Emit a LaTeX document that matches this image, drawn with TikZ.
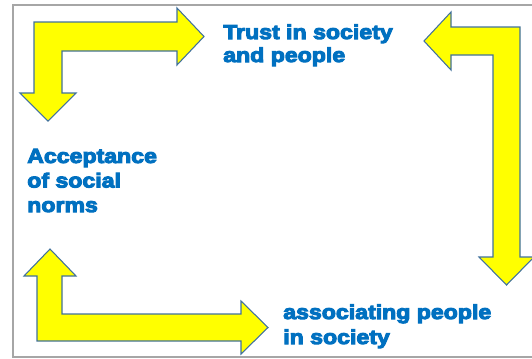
\documentclass[tikz,border=0pt]{standalone}
\usepackage{fontspec}
\newfontfamily\lbl{Liberation Sans}[BoldFeatures={FakeBold=5,FakeStretch=1.14}]
\definecolor{txtblue}{HTML}{0070C0}
\definecolor{arrowfill}{HTML}{FFFF00}
\definecolor{arrowline}{HTML}{41719C}
\definecolor{framegray}{HTML}{A6A6A6}
\tikzset{
  bentarrow/.style={fill=arrowfill, draw=arrowline, line width=0.8pt, line join=miter},
  label/.style={text=txtblue, inner sep=0pt, anchor=base west, align=left}
}
\begin{document}
\begin{tikzpicture}[x=0.75pt, y=-0.75pt]
\useasboundingbox (0,0) rectangle (532,358);
% frame
\draw[framegray, line width=1.5pt] (532,5) -- (13,5) -- (13,357) -- (532,357);
% arrow 1 (top left)
\draw[bentarrow] (34,22) -- (177,22) -- (177,8) -- (204,36.5) -- (177,65) -- (177,51)
  -- (62,51) -- (62,93) -- (76,93) -- (48,121) -- (20,93) -- (34,93) -- cycle;
% arrow 2 (top right)
\draw[bentarrow] (520,27) -- (520,257) -- (534,257) -- (506.5,285) -- (479,257) -- (493,257)
  -- (493,55) -- (451,55) -- (451,70) -- (424,41) -- (451,12) -- (451,27) -- cycle;
% arrow 3 (bottom left)
\draw[bentarrow] (37,341) -- (37,276) -- (24,276) -- (50,249) -- (76,276) -- (62,276)
  -- (62,314) -- (241,314) -- (241,301) -- (268,327.5) -- (241,354) -- (241,341) -- cycle;
% labels (base anchor = baseline of last line)
\node[label, font=\lbl\bfseries\fontsize{15.2}{17.25}\selectfont] (trust) at (223,62)
  {Trust in society\\and people};
\node[label, font=\lbl\bfseries\fontsize{15.2}{18.4}\selectfont] (accept) at (27,212)
  {Acceptance\\of social\\norms};
\node[label, font=\lbl\bfseries\fontsize{15.2}{18.75}\selectfont] (assoc) at (283,344)
  {associating people\\in society};
\end{tikzpicture}
\end{document}
